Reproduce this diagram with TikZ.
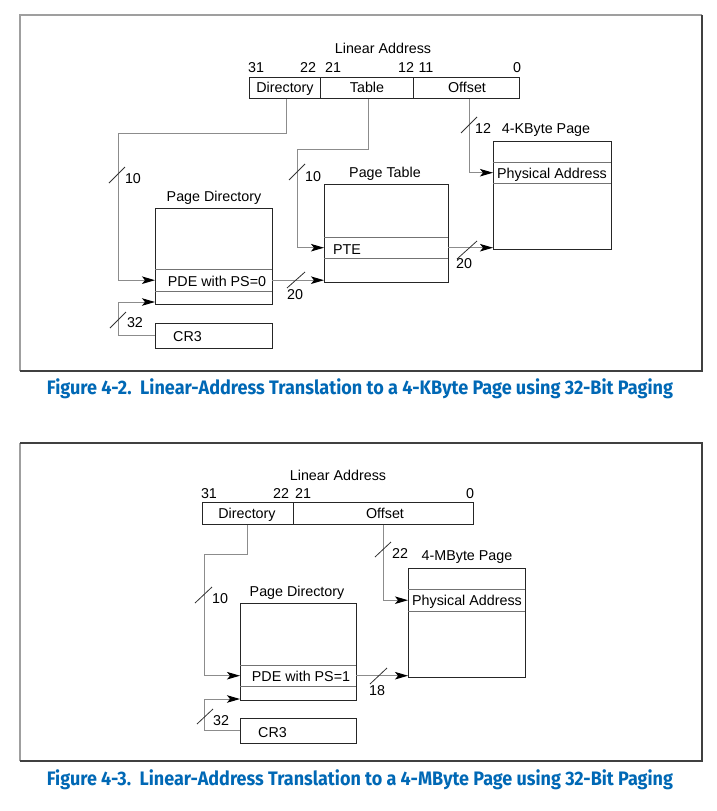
\documentclass[tikz,border=0pt]{standalone}
\usepackage{fontspec}
\setmainfont{Liberation Sans}
\newfontfamily\capfont{Fira Sans}
\usetikzlibrary{arrows.meta}
\definecolor{capblue}{HTML}{0068B5}
\definecolor{wire}{gray}{0.55}
\definecolor{rule}{gray}{0.45}
\definecolor{edge}{gray}{0.15}
\begin{document}
\begin{tikzpicture}[x=1pt,y=-1pt,
  font=\fontsize{14.3}{16}\selectfont,
  cell/.style={draw=edge, line width=0.9pt, inner sep=0pt, anchor=north west},
  band/.style={inner sep=0pt, anchor=north west},
  divider/.style={draw=rule, line width=0.7pt},
  conn/.style={draw=wire, line width=1pt},
  tip/.style={-{Stealth[length=13pt,width=7.5pt,inset=3pt,black]}},
  busmark/.style={draw=black!80, line width=0.8pt},
  lbl/.style={inner sep=0pt, anchor=base},
  caption/.style={inner sep=0pt, anchor=base, text=capblue},
  frameA/.style={draw=gray!75, line width=1.5pt},
  frameB/.style={draw=black!75, line width=1.3pt},
]
\useasboundingbox (0,0) rectangle (717,811);

%% ---------- Figure 4-2: 4-KByte page ----------
\draw[frameA] (20,371) -- (20,15) -- (702,15);
\draw[frameB] (702,15) -- (702,371) -- (20,371);

% linear address fields
\node[lbl] (la1) at (383,53) {Linear Address};
\node[cell, minimum width=71pt, minimum height=21pt] (dir1) at (249,77) {};
\node[cell, minimum width=93pt, minimum height=21pt] (tab1) at (320,77) {};
\node[cell, minimum width=106pt, minimum height=21pt] (off1) at (413,77) {};
\node[lbl] (dir1t) at (285,92) {Directory};
\node[lbl] (tab1t) at (367,92) {Table};
\node[lbl] (off1t) at (467,92) {Offset};
\node[lbl] (b31a) at (256,72) {31};
\node[lbl] (b22a) at (308,72) {22};
\node[lbl] (b21a) at (333,72) {21};
\node[lbl] (b12a) at (406,72) {12};
\node[lbl] (b11a) at (426,72) {11};
\node[lbl] (b0a)  at (517,72) {0};

% page directory
\node[lbl] (pd1t) at (214,201) {Page Directory};
\node[cell, minimum width=117pt, minimum height=96pt] (pd1) at (155,208) {};
\node[band, minimum width=117pt, minimum height=22pt] (pde1) at (155,269) {};
\draw[divider] (pde1.north west) -- (pde1.north east);
\draw[divider] (pde1.south west) -- (pde1.south east);
\node[lbl] (pde1t) at (217,286) {PDE with PS=0};

% CR3
\node[cell, minimum width=117pt, minimum height=25pt] (cr31) at (155,323) {};
\node[lbl, anchor=base west] (cr31t) at (173,341) {CR3};

% page table
\node[lbl] (pt1t) at (385,177) {Page Table};
\node[cell, minimum width=124pt, minimum height=98pt] (pt1) at (324,184) {};
\node[band, minimum width=124pt, minimum height=21pt] (pte1) at (324,237) {};
\draw[divider] (pte1.north west) -- (pte1.north east);
\draw[divider] (pte1.south west) -- (pte1.south east);
\node[lbl, anchor=base west] (pte1t) at (333,254) {PTE};

% 4-KByte page
\node[lbl] (pg1t) at (546,133) {4-KByte Page};
\node[cell, minimum width=118pt, minimum height=108pt] (pg1) at (493,141) {};
\node[band, minimum width=118pt, minimum height=21pt] (pa1) at (493,162) {};
\draw[divider] (pa1.north west) -- (pa1.north east);
\draw[divider] (pa1.south west) -- (pa1.south east);
\node[lbl] (pa1t) at (552,178) {Physical Address};

% connectors
\coordinate (k1) at (118,133);
\coordinate (k2) at (118,302);
\coordinate (k3) at (297,149);
\draw[conn,tip] ([xshift=2pt]dir1.south) |- (k1) |- (pde1.west);
\draw[conn,tip] (cr31.west) -| (k2) -- (k2 -| pd1.west);
\draw[conn,tip] ([xshift=1.5pt]tab1.south) |- (k3) |- (pte1.west);
\draw[conn,tip] ([xshift=3pt]off1.south) |- (pa1.west);
\draw[conn,tip] (pde1.east) -- (pde1.east -| pt1.west);
\draw[conn,tip] (pte1.east) -- (pte1.east -| pg1.west);

% bus widths
\draw[busmark] (109,183) -- (125,167);
\node[lbl] (w10a) at (133,183) {10};
\draw[busmark] (289,180) -- (305,164);
\node[lbl] (w10b) at (313,181) {10};
\draw[busmark] (110,328) -- (126,312);
\node[lbl] (w32a) at (135,327) {32};
\draw[busmark] (287,288) -- (305,272);
\node[lbl] (w20a) at (295,299) {20};
\draw[busmark] (457,259) -- (477,241);
\node[lbl] (w20b) at (464,268) {20};
\draw[busmark] (461,133) -- (477,117);
\node[lbl] (w12a) at (483,133) {12};

\node[caption] (cap1) at (360,394) {\resizebox{626pt}{\height}{\capfont\bfseries\fontsize{19.5}{22}\selectfont Figure 4-2.\ \ Linear-Address Translation to a 4-KByte Page using 32-Bit Paging}};

%% ---------- Figure 4-3: 4-MByte page ----------
\draw[frameA] (20,761) -- (20,443);
\draw[frameB] (20,443) -- (702,443) -- (702,761) -- (20,761);

\node[lbl] (la2) at (338,480) {Linear Address};
\node[cell, minimum width=91pt, minimum height=22pt] (dir2) at (202,502) {};
\node[cell, minimum width=180pt, minimum height=22pt] (off2) at (293,502) {};
\node[lbl] (dir2t) at (247,518) {Directory};
\node[lbl] (off2t) at (385,518) {Offset};
\node[lbl] (b31b) at (209,498) {31};
\node[lbl] (b22b) at (281,498) {22};
\node[lbl] (b21b) at (303,498) {21};
\node[lbl] (b0b)  at (470,498) {0};

% page directory
\node[lbl] (pd2t) at (297,596) {Page Directory};
\node[cell, minimum width=116pt, minimum height=97pt] (pd2) at (240,603) {};
\node[band, minimum width=116pt, minimum height=21pt] (pde2) at (240,665) {};
\draw[divider] (pde2.north west) -- (pde2.north east);
\draw[divider] (pde2.south west) -- (pde2.south east);
\node[lbl] (pde2t) at (301,681) {PDE with PS=1};

% CR3
\node[cell, minimum width=116pt, minimum height=25pt] (cr32) at (240,718) {};
\node[lbl, anchor=base west] (cr32t) at (258,737) {CR3};

% 4-MByte page
\node[lbl] (pg2t) at (467,560) {4-MByte Page};
\node[cell, minimum width=117pt, minimum height=109pt] (pg2) at (408,568) {};
\node[band, minimum width=117pt, minimum height=22pt] (pa2) at (408,589) {};
\draw[divider] (pa2.north west) -- (pa2.north east);
\draw[divider] (pa2.south west) -- (pa2.south east);
\node[lbl] (pa2t) at (467,605) {Physical Address};

% connectors
\coordinate (k4) at (204,554);
\coordinate (k5) at (204,699);
\draw[conn,tip] (dir2.south) |- (k4) |- (pde2.west);
\draw[conn,tip] (cr32.west) -| (k5) -- (k5 -| pd2.west);
\draw[conn,tip] (off2.south) |- (pa2.west);
\draw[conn,tip] (pde2.east) -- (pde2.east -| pg2.west);

% bus widths
\draw[busmark] (195,603) -- (212,587);
\node[lbl] (w10c) at (220,603) {10};
\draw[busmark] (197,724) -- (213,709);
\node[lbl] (w32b) at (221,725) {32};
\draw[busmark] (370,684) -- (387,668);
\node[lbl] (w18a) at (377,695) {18};
\draw[busmark] (375,557) -- (391,542);
\node[lbl] (w22a) at (400,558) {22};

\node[caption] (cap2) at (360,785) {\resizebox{626pt}{\height}{\capfont\bfseries\fontsize{19.5}{22}\selectfont Figure 4-3.\ \ Linear-Address Translation to a 4-MByte Page using 32-Bit Paging}};
\end{tikzpicture}
\end{document}
